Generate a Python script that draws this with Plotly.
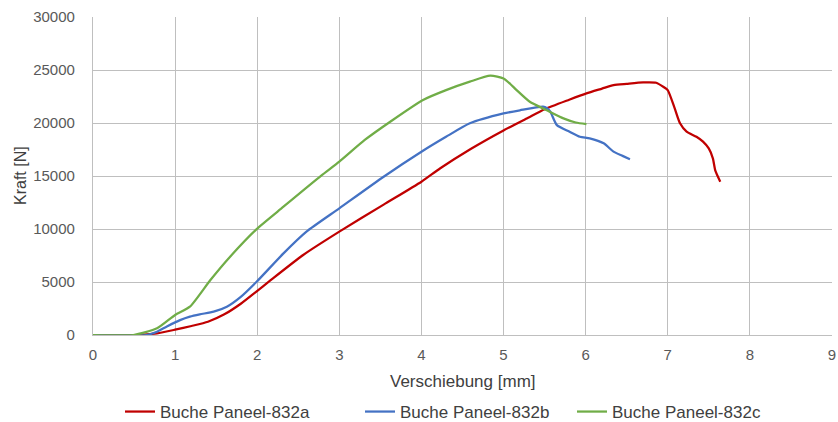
import plotly.graph_objects as go

# Buche Paneel-832a
xa = [0, 0.5, 0.78, 1.0, 1.2, 1.4, 1.6, 1.8, 1.99, 2.16, 2.56, 3.0, 3.54, 4.0, 4.23, 4.6, 5.0, 5.3, 5.5, 5.8, 6.01, 6.2, 6.34, 6.5, 6.7, 6.86, 6.95, 7.0, 7.08, 7.15, 7.23, 7.35, 7.43, 7.5, 7.55, 7.58, 7.64]
ya = [0, 0, 160, 500, 850, 1250, 1950, 2950, 4100, 5150, 7550, 9750, 12300, 14460, 15730, 17550, 19300, 20500, 21300, 22200, 22800, 23250, 23580, 23700, 23830, 23800, 23400, 23100, 21500, 19970, 19180, 18700, 18240, 17600, 16670, 15500, 14460]

# Buche Paneel-832b
xb = [0, 0.65, 0.78, 0.9, 1.06, 1.18, 1.3, 1.47, 1.63, 1.8, 1.99, 2.32, 2.6, 3.0, 3.54, 4.0, 4.3, 4.59, 5.0, 5.2, 5.48, 5.53, 5.57, 5.65, 5.8, 5.93, 6.05, 6.22, 6.34, 6.45, 6.54]
yb = [0, 0, 310, 800, 1400, 1730, 1950, 2200, 2670, 3600, 5000, 7700, 9750, 11950, 14930, 17290, 18700, 19970, 20900, 21200, 21540, 21400, 21070, 19800, 19200, 18700, 18550, 18080, 17300, 16900, 16580]

# Buche Paneel-832c
xc = [0, 0.49, 0.78, 1.0, 1.18, 1.43, 1.67, 1.99, 2.32, 2.78, 3.0, 3.31, 3.62, 4.02, 4.3, 4.59, 4.84, 5.0, 5.08, 5.16, 5.32, 5.52, 5.73, 5.88, 6.01]
yc = [0, 0, 630, 1890, 2670, 5190, 7390, 9970, 12100, 15030, 16350, 18400, 20120, 22170, 23100, 23900, 24460, 24200, 23700, 23100, 22000, 21230, 20440, 20050, 19900]

names = ["Buche Paneel-832a", "Buche Paneel-832b", "Buche Paneel-832c"]
colors = ["#C00000", "#4472C4", "#70AD47"]
legend_ids = ["legend", "legend2", "legend3"]
legend_x_px = [120, 360, 572]

x_title = "Verschiebung [mm]"
y_title = "Kraft [N]"

x_ticks = list(range(0, 10))
x_labels = [str(v) for v in x_ticks]
y_ticks = list(range(0, 30001, 5000))
y_labels = [str(v) for v in y_ticks]

W, H = 838, 422

fig = go.Figure()
for xs, ys, n, c, lg in zip([xa, xb, xc], [ya, yb, yc], names, colors, legend_ids):
    fig.add_trace(go.Scatter(x=xs, y=ys, mode="lines", name=n, legend=lg, hoverinfo="skip",
                             line=dict(color=c, width=2.25, shape="spline", smoothing=0.6)))

font_fam = "Liberation Sans, Arial, sans-serif"
legend_common = dict(orientation="h", xref="container", yref="container", xanchor="left",
                     y=(H - 412) / H, yanchor="middle", font=dict(size=17, color="#404040"),
                     bgcolor="rgba(0,0,0,0)", borderwidth=0)
layout_legends = {}
for lg, xp in zip(legend_ids, legend_x_px):
    layout_legends[lg] = dict(legend_common, x=xp / W)

fig.update_layout(
    width=W, height=H,
    margin=dict(l=93, r=6, t=17, b=87, autoexpand=False),
    paper_bgcolor="white", plot_bgcolor="white",
    font=dict(family=font_fam, size=15, color="#595959"),
    showlegend=True,
    **layout_legends,
    annotations=[
        dict(text=x_title, xref="paper", x=0.5, yref="paper", y=-(381 - 335) / 318,
             xanchor="center", yanchor="middle", showarrow=False,
             font=dict(size=17, color="#404040")),
        dict(text=y_title, xref="paper", x=-(93 - 20) / 739, yref="paper", y=0.5,
             xanchor="center", yanchor="middle", showarrow=False, textangle=-90,
             font=dict(size=16, color="#404040")),
    ],
)
fig.update_xaxes(range=[0, 9.001], tickvals=x_ticks, ticktext=x_labels, showgrid=True, gridcolor="#BFBFBF", gridwidth=1.3,
                 zeroline=False, showline=True, linecolor="#BFBFBF", linewidth=1.3, automargin=False,
                 ticklabelstandoff=6, ticks="", ticklen=0)
fig.update_yaxes(range=[0, 30000], tickvals=y_ticks, ticktext=y_labels, showgrid=True, gridcolor="#BFBFBF", gridwidth=1.3,
                 zeroline=False, showline=True, linecolor="#BFBFBF", linewidth=1.3, automargin=False,
                 ticklabelstandoff=14, ticks="", ticklen=0)

fig.write_html("out.html", config={"displayModeBar": False},
               post_script="document.body.style.margin='0px';document.body.style.overflow='hidden';")
